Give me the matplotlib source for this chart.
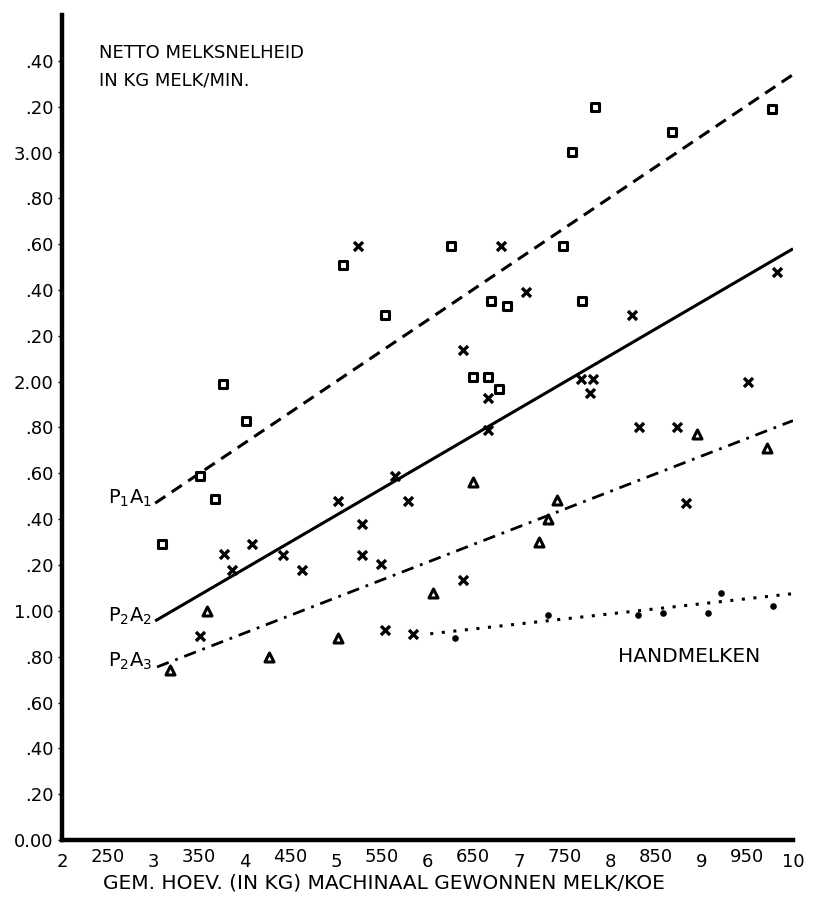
import matplotlib
matplotlib.use("Agg")
import matplotlib.pyplot as plt
import matplotlib.transforms as mtransforms
import numpy as np

# ---- data ----
# P1A1 (squares)
p1a1_x = [309, 351, 367, 376, 401, 507, 553, 626, 748, 758, 783, 868, 977, 670, 687, 769, 650, 666, 678]
p1a1_y = [1.29, 1.59, 1.49, 1.99, 1.83, 2.51, 2.29, 2.59, 2.59, 3.00, 3.20, 3.09, 3.19, 2.35, 2.33, 2.35, 2.02, 2.02, 1.97]
# P2A2 (crosses)
p2a2_x = [524, 680, 639, 708, 824, 982, 666, 768, 781, 778, 951, 832, 873, 883, 666, 639,
          564, 502, 579, 528, 408, 377, 442, 386, 463, 528, 549, 351, 553, 584]
p2a2_y = [2.59, 2.59, 2.14, 2.39, 2.29, 2.48, 1.93, 2.01, 2.01, 1.95, 2.00, 1.80, 1.80, 1.47, 1.79, 1.135,
          1.59, 1.48, 1.48, 1.38, 1.29, 1.25, 1.245, 1.18, 1.18, 1.245, 1.205, 0.89, 0.917, 0.90]
# P2A3 (triangles)
p2a3_x = [359, 318, 427, 502, 606, 650, 742, 732, 722, 895, 971]
p2a3_y = [1.00, 0.74, 0.80, 0.88, 1.08, 1.56, 1.485, 1.40, 1.30, 1.77, 1.71]
# Handmelken (dots)
hand_x = [630, 732, 830, 858, 907, 921, 978]
hand_y = [0.88, 0.98, 0.98, 0.99, 0.99, 1.08, 1.02]

# regression lines (end points)
line_p1a1_x = [302, 1000]; line_p1a1_y = [1.47, 3.34]
line_p2a2_x = [302, 1000]; line_p2a2_y = [0.956, 2.58]
line_p2a3_x = [304, 1000]; line_p2a3_y = [0.755, 1.83]
line_hand_x = [603, 1000]; line_hand_y = [0.90, 1.075]

xticks = [200, 250, 300, 350, 400, 450, 500, 550, 600, 650, 700, 750, 800, 850, 900, 950, 1000]
xticklabels = ["2", "250", "3", "350", "4", "450", "5", "550", "6", "650", "7", "750", "8", "850", "9", "950", "10"]
yticks = [0.0, 0.2, 0.4, 0.6, 0.8, 1.0, 1.2, 1.4, 1.6, 1.8, 2.0, 2.2, 2.4, 2.6, 2.8, 3.0, 3.2, 3.4]
yticklabels = ["0.00", ".20", ".40", ".60", ".80", "1.00", ".20", ".40", ".60", ".80",
               "2.00", ".20", ".40", ".60", ".80", "3.00", ".20", ".40"]

plt.rcParams['font.family'] = ['DejaVu Sans']

W, H = 816, 897
fig = plt.figure(figsize=(W / 100, H / 100), dpi=100)
left_px, right_px, bottom_px, top_px = 62, 793, 840, 15
ax = fig.add_axes([left_px / W, 1 - bottom_px / H, (right_px - left_px) / W, (bottom_px - top_px) / H])
ax.set_xlim(200, 1000)
ax.set_ylim(0, 3.6)

k = 'black'
ax.plot(line_p1a1_x, line_p1a1_y, color=k, lw=2.2, dashes=(4, 2.5), solid_capstyle='butt')
ax.plot(line_p2a2_x, line_p2a2_y, color=k, lw=2.2, solid_capstyle='butt')
ax.plot(line_p2a3_x, line_p2a3_y, color=k, lw=2.0, dashes=(4.5, 2.5, 1.0, 2.5))
ax.plot(line_hand_x, line_hand_y, color=k, lw=2.2, dashes=(1.0, 2.8))

ax.scatter(p1a1_x, p1a1_y, marker='s', s=40, facecolors='white', edgecolors=k, linewidths=2.2, zorder=3)
ax.scatter(p2a2_x, p2a2_y, marker='x', s=42, color=k, linewidths=2.4, zorder=3)
ax.scatter(p2a3_x, p2a3_y, marker='^', s=42, facecolors='white', edgecolors=k, linewidths=2.2, zorder=3)
ax.scatter(hand_x, hand_y, marker='o', s=14, color=k, zorder=3)

for s in ['top', 'right']:
    ax.spines[s].set_visible(False)
for s in ['left', 'bottom']:
    ax.spines[s].set_linewidth(3.2)

ax.set_yticks(yticks)
ax.set_yticklabels(yticklabels, fontsize=13)
ax.set_xticks(xticks)
ax.set_xticklabels(xticklabels, fontsize=13)
ax.tick_params(axis='y', length=3, width=1, direction='out', pad=3)
ax.tick_params(axis='x', length=0, pad=9)

for lab, txt in zip(ax.get_xticklabels(), xticklabels):
    if len(txt) >= 3:
        lab.set_transform(lab.get_transform() + mtransforms.ScaledTranslation(0, 5 / 100, fig.dpi_scale_trans))

ax.set_xlabel("GEM. HOEV. (IN KG) MACHINAAL GEWONNEN MELK/KOE", fontsize=14.5, labelpad=2)
ax.xaxis.set_label_coords(0.44, -0.041)

ax.text(241, 3.475, "NETTO MELKSNELHEID\nIN KG MELK/MIN.", fontsize=13, va='top', ha='left', linespacing=1.7)

ax.text(250, 1.49, r"$\mathregular{P_1A_1}$", fontsize=14, ha='left', va='center')
ax.text(250, 0.975, r"$\mathregular{P_2A_2}$", fontsize=14, ha='left', va='center')
ax.text(250, 0.78, r"$\mathregular{P_2A_3}$", fontsize=14, ha='left', va='center')
ax.text(808, 0.80, "HANDMELKEN", fontsize=14.5, ha='left', va='center')

fig.savefig("out.png", dpi=100)
